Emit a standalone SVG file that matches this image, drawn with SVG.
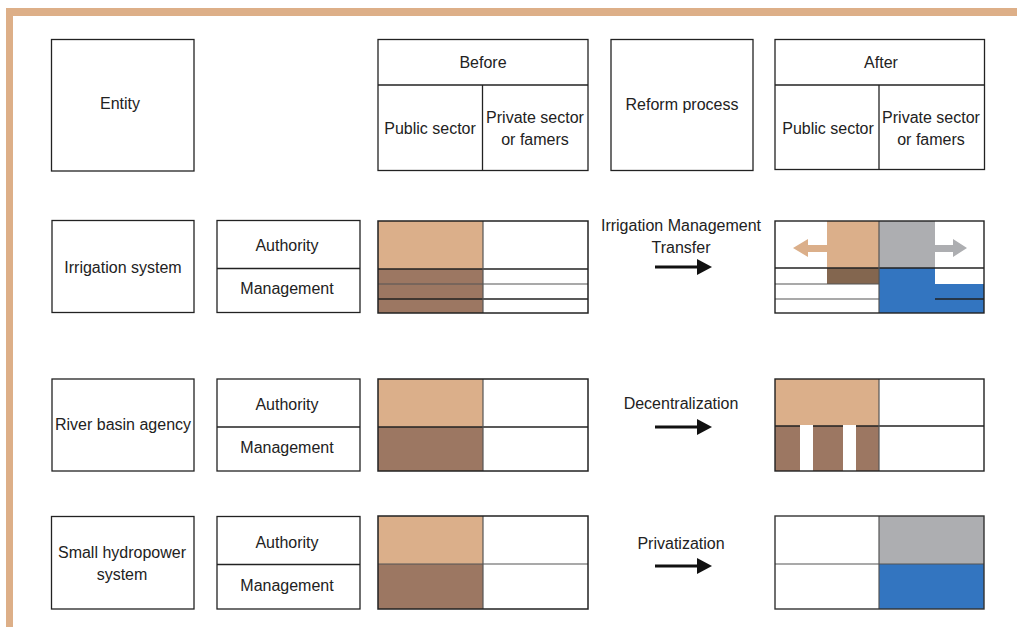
<svg xmlns="http://www.w3.org/2000/svg" width="1017" height="627" viewBox="0 0 1017 627">
<style>
.box{fill:#fff;stroke:#222;stroke-width:1.3}
.ln{stroke:#222;stroke-width:1.3;fill:none}
.lg{stroke:#555;stroke-width:1.2;fill:none}
.t{font-family:"Liberation Sans",Arial,sans-serif;font-size:16px;fill:#222;text-anchor:middle}
.tan{fill:#DBAF8A}
.brn{fill:#9C7762}
.dbr{fill:#83664F}
.gry{fill:#ADAEB1}
.blu{fill:#3375C0}
.shaft{stroke:#111;stroke-width:3;fill:none}
.head{fill:#111}
</style>
<rect width="1017" height="627" fill="#fff"/>
<!-- frame -->
<rect x="6" y="8" width="1011" height="8" fill="#DDAF88"/>
<rect x="6" y="8" width="7" height="619" fill="#DDAF88"/>

<!-- header -->
<g id="entity">
<rect class="box" x="51.5" y="39.5" width="142.5" height="131.5"/>
<text class="t" x="120" y="109">Entity</text>
</g>
<g id="before-header">
<rect class="box" x="378" y="39.5" width="210" height="131"/>
<line class="ln" x1="378" y1="85" x2="588" y2="85"/>
<line class="ln" x1="482.5" y1="85" x2="482.5" y2="170.5"/>
<text class="t" x="483" y="68">Before</text>
<text class="t" x="430" y="134">Public sector</text>
<text class="t" x="535" y="123">Private sector</text>
<text class="t" x="535" y="145">or famers</text>
</g>
<g id="reform-header">
<rect class="box" x="611" y="39.5" width="142" height="131"/>
<text class="t" x="682" y="110">Reform process</text>
</g>
<g id="after-header">
<rect class="box" x="775" y="39.5" width="209.5" height="130"/>
<line class="ln" x1="775" y1="85" x2="984.5" y2="85"/>
<line class="ln" x1="879" y1="85" x2="879" y2="169.5"/>
<text class="t" x="881" y="68">After</text>
<text class="t" x="828" y="134">Public sector</text>
<text class="t" x="931" y="123">Private sector</text>
<text class="t" x="931" y="145">or famers</text>
</g>

<!-- row 1 -->
<g id="irrigation-system">
<rect class="box" x="52" y="220.5" width="142" height="92"/>
<text class="t" x="123" y="273">Irrigation system</text>
</g>
<g id="am1">
<rect class="box" x="217" y="220.5" width="143" height="92"/>
<line class="ln" x1="217" y1="268.5" x2="360" y2="268.5"/>
<text class="t" x="287" y="251">Authority</text>
<text class="t" x="287" y="294">Management</text>
</g>
<g id="before1">
<rect x="378" y="221" width="210" height="92" fill="#fff"/>
<rect class="tan" x="378" y="221" width="105" height="48"/>
<rect class="brn" x="378" y="269" width="105" height="44"/>
<line class="ln" x1="378" y1="269" x2="588" y2="269"/>
<line class="lg" x1="378" y1="284" x2="588" y2="284"/>
<line class="ln" x1="378" y1="299" x2="588" y2="299"/>
<line class="lg" x1="483" y1="221" x2="483" y2="313"/>
<rect x="378" y="221" width="210" height="92" fill="none" stroke="#222" stroke-width="1.5"/>
</g>
<g id="reform1">
<text class="t" x="681" y="231">Irrigation Management</text>
<text class="t" x="681" y="253">Transfer</text>
</g>
<g id="after1">
<rect x="775" y="221" width="209" height="92" fill="#fff"/>
<rect class="tan" x="827" y="221" width="52" height="47"/>
<rect class="gry" x="879" y="221" width="56" height="47"/>
<rect class="dbr" x="827" y="268" width="52" height="16"/>
<rect class="blu" x="879" y="268" width="56" height="45"/>
<rect class="blu" x="935" y="284" width="49" height="29"/>
<line class="ln" x1="775" y1="268" x2="984" y2="268"/>
<line class="lg" x1="775" y1="284" x2="879" y2="284"/>
<line class="lg" x1="775" y1="299" x2="879" y2="299"/>
<line class="ln" x1="935" y1="299" x2="984" y2="299"/>
<path class="tan" d="M827,245 L808,245 L808,239 L793,248 L808,257 L808,252 L827,252 Z"/>
<path class="gry" d="M935,245 L953,245 L953,239 L967,248 L953,257 L953,252 L935,252 Z"/>
<line class="lg" x1="879" y1="221" x2="879" y2="313"/>
<rect x="775" y="221" width="209" height="92" fill="none" stroke="#222" stroke-width="1.4"/>
</g>

<!-- row 2 -->
<g id="river-basin-agency">
<rect class="box" x="52" y="379" width="142" height="92"/>
<text class="t" x="123" y="430">River basin agency</text>
</g>
<g id="am2">
<rect class="box" x="217" y="379" width="143" height="92"/>
<line class="ln" x1="217" y1="427" x2="360" y2="427"/>
<text class="t" x="287" y="410">Authority</text>
<text class="t" x="287" y="453">Management</text>
</g>
<g id="before2">
<rect x="378" y="379" width="210" height="92" fill="#fff"/>
<rect class="tan" x="378" y="379" width="105" height="48"/>
<rect class="brn" x="378" y="427" width="105" height="44"/>
<line class="ln" x1="378" y1="427" x2="588" y2="427"/>
<line class="lg" x1="483" y1="379" x2="483" y2="471"/>
<rect x="378" y="379" width="210" height="92" fill="none" stroke="#222" stroke-width="1.5"/>
</g>
<g id="reform2">
<text class="t" x="681" y="409">Decentralization</text>
</g>
<g id="after2">
<rect x="775" y="379" width="209" height="92" fill="#fff"/>
<rect class="tan" x="775" y="379" width="104" height="47"/>
<rect class="brn" x="775" y="426" width="104" height="45"/>
<line class="ln" x1="775" y1="426" x2="984" y2="426"/>
<rect x="800" y="425" width="13" height="46" fill="#fff"/>
<rect x="843" y="425" width="13" height="46" fill="#fff"/>
<line class="lg" x1="879" y1="379" x2="879" y2="471"/>
<rect x="775" y="379" width="209" height="92" fill="none" stroke="#222" stroke-width="1.4"/>
</g>

<!-- row 3 -->
<g id="small-hydropower-system">
<rect class="box" x="51.5" y="516.5" width="142.5" height="92.5"/>
<text class="t" x="122" y="558">Small hydropower</text>
<text class="t" x="122" y="580">system</text>
</g>
<g id="am3">
<rect class="box" x="217" y="516.5" width="143" height="92.5"/>
<line class="ln" x1="217" y1="564.5" x2="360" y2="564.5"/>
<text class="t" x="287" y="548">Authority</text>
<text class="t" x="287" y="591">Management</text>
</g>
<g id="before3">
<rect x="378" y="516" width="210" height="93" fill="#fff"/>
<rect class="tan" x="378" y="516" width="105" height="48"/>
<rect class="brn" x="378" y="564" width="105" height="45"/>
<line class="lg" x1="378" y1="564" x2="588" y2="564"/>
<line class="lg" x1="483" y1="516" x2="483" y2="609"/>
<rect x="378" y="516" width="210" height="93" fill="none" stroke="#222" stroke-width="1.5"/>
</g>
<g id="reform3">
<text class="t" x="681" y="549">Privatization</text>
</g>
<g id="after3">
<rect x="775" y="516" width="209" height="93" fill="#fff"/>
<rect class="gry" x="879" y="516" width="105" height="48"/>
<rect class="blu" x="879" y="564" width="105" height="45"/>
<line class="lg" x1="775" y1="564" x2="984" y2="564"/>
<line class="lg" x1="879" y1="516" x2="879" y2="609"/>
<rect x="775" y="516" width="209" height="93" fill="none" stroke="#333" stroke-width="1.4"/>
</g>

<!-- connectors -->
<g id="connectors">
<line class="shaft" x1="655" y1="267" x2="699" y2="267"/>
<path class="head" d="M697,259 L712,267 L697,275 Z"/>
<line class="shaft" x1="655" y1="427" x2="699" y2="427"/>
<path class="head" d="M697,419 L712,427 L697,435 Z"/>
<line class="shaft" x1="655" y1="566" x2="699" y2="566"/>
<path class="head" d="M697,558 L712,566 L697,574 Z"/>
</g>
</svg>
